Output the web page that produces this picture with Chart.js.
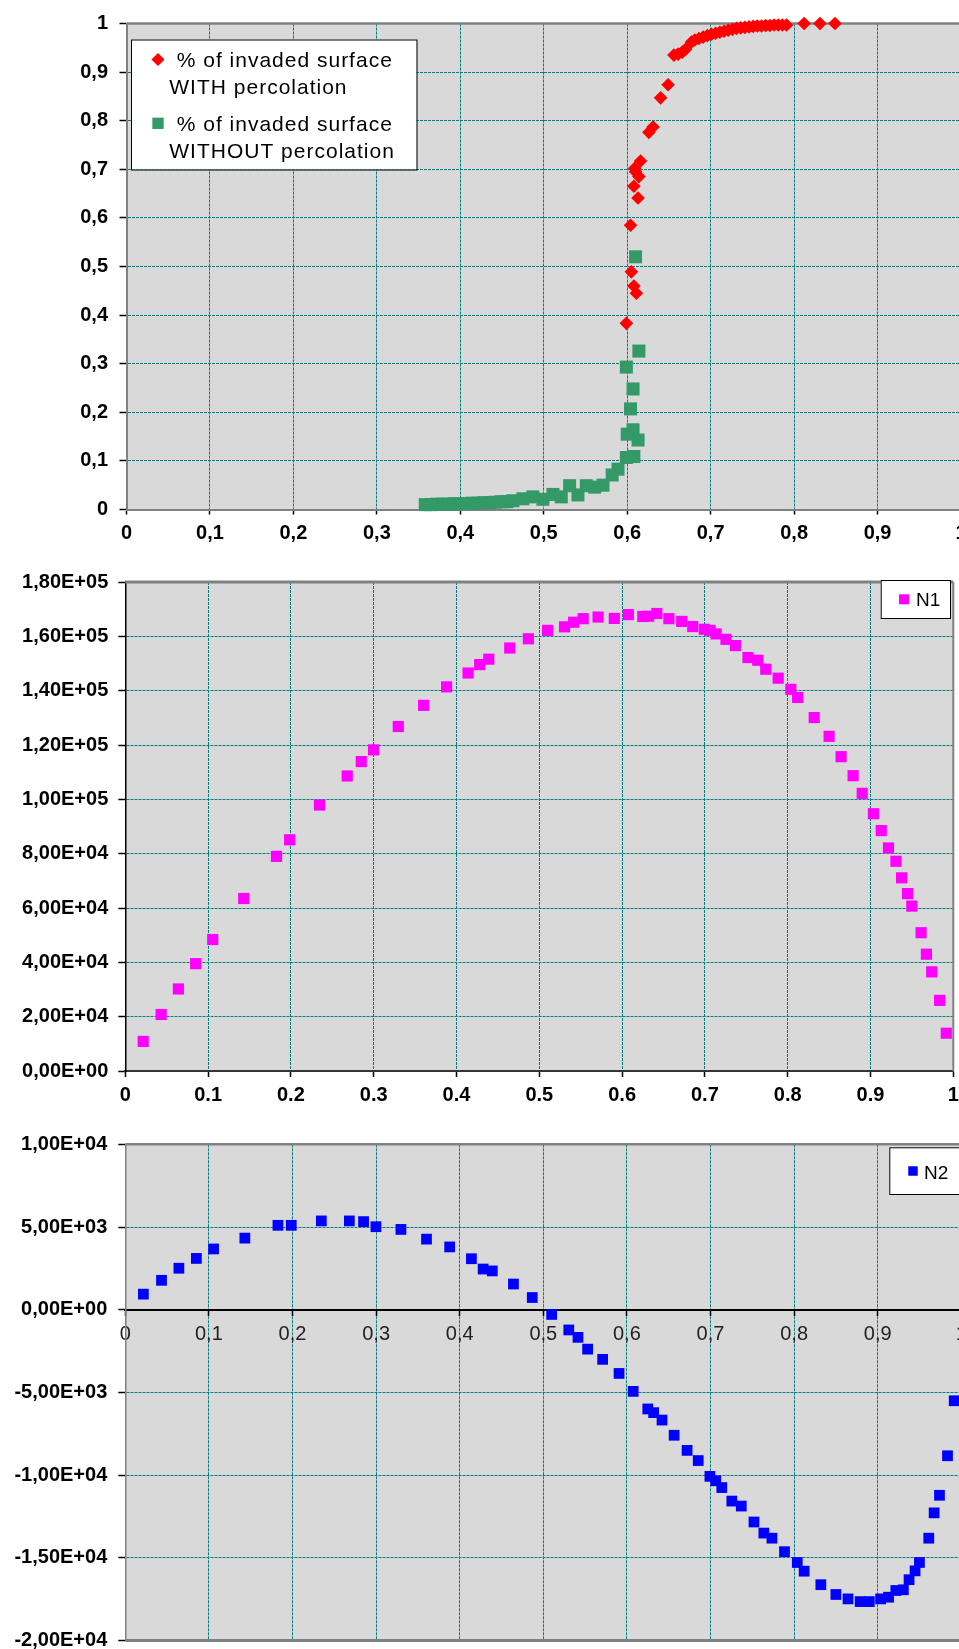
<!DOCTYPE html>
<html>
<head>
<meta charset="utf-8">
<title>Invaded surface, N1 and N2</title>
<script src="https://cdn.jsdelivr.net/npm/chart.js@4.4.1/dist/chart.umd.min.js"></script>
<style>
  html, body { margin: 0; padding: 0; background: #fff; }
  body { width: 959px; height: 1649px; overflow: hidden; position: relative; }
  canvas { position: absolute; left: 0; }
</style>
</head>
<body>
<canvas id="surface" width="975" height="560" style="top:0px"></canvas>
<canvas id="n1" width="975" height="545" style="top:560px"></canvas>
<canvas id="n2" width="975" height="560" style="top:1105px"></canvas>
<script>
// --- data ---
const withPercolationX = [0.599, 0.604, 0.605, 0.608, 0.611, 0.613, 0.608, 0.614, 0.610, 0.609, 0.616, 0.626, 0.631, 0.640, 0.649,
  0.656, 0.661, 0.666, 0.670, 0.677, 0.681, 0.686, 0.691, 0.696, 0.701, 0.706, 0.711, 0.716, 0.721, 0.726, 0.731, 0.736,
  0.741, 0.746, 0.751, 0.756, 0.761, 0.766, 0.771, 0.776, 0.781, 0.786, 0.791, 0.812, 0.831, 0.849];
const withPercolationY = [0.383, 0.585, 0.489, 0.460, 0.445, 0.641, 0.665, 0.685, 0.695, 0.702, 0.717, 0.776, 0.787, 0.847, 0.874,
  0.935, 0.937, 0.941, 0.947, 0.962, 0.966, 0.969, 0.972, 0.975, 0.978, 0.980, 0.982, 0.984, 0.986, 0.988, 0.990, 0.991,
  0.992, 0.993, 0.994, 0.995, 0.995, 0.996, 0.996, 0.997, 0.997, 0.997, 0.997, 1.000, 1.000, 1.000];

const withoutPercolationX = [0.358, 0.365, 0.372, 0.379, 0.386, 0.393, 0.400, 0.407, 0.414, 0.421, 0.428, 0.435, 0.442, 0.449,
  0.456, 0.463, 0.475, 0.487, 0.499, 0.511, 0.521, 0.531, 0.541, 0.551, 0.561, 0.571, 0.582, 0.589, 0.599, 0.608, 0.600,
  0.607, 0.613, 0.604, 0.607, 0.599, 0.614, 0.610];
const withoutPercolationY = [0.010, 0.010, 0.011, 0.011, 0.011, 0.012, 0.012, 0.012, 0.013, 0.013, 0.014, 0.014, 0.015, 0.016,
  0.016, 0.018, 0.022, 0.026, 0.021, 0.031, 0.026, 0.049, 0.030, 0.049, 0.046, 0.050, 0.071, 0.083, 0.107, 0.109, 0.155,
  0.164, 0.143, 0.207, 0.248, 0.293, 0.326, 0.520];

// x positions shared by N1 and N2
const fraction = [0.0216, 0.0433, 0.0641, 0.085, 0.1056, 0.143, 0.1826, 0.1985, 0.2345, 0.268, 0.285, 0.2998, 0.3297, 0.3603,
  0.388, 0.414, 0.428, 0.439, 0.4643, 0.4868, 0.510, 0.5305, 0.5415, 0.553, 0.571, 0.5906, 0.6075, 0.625, 0.632, 0.642,
  0.6565, 0.672, 0.6853, 0.6993, 0.7063, 0.7135, 0.7255, 0.7368, 0.752, 0.7638, 0.7735, 0.7885, 0.8038, 0.812, 0.832,
  0.850, 0.8645, 0.879, 0.890, 0.9035, 0.913, 0.9217, 0.9307, 0.9375, 0.9447, 0.9499, 0.9611, 0.9675, 0.9739, 0.9835, 0.9915];
const n1Values = [10900, 20800, 30200, 39500, 48400, 63500, 79000, 85100, 97900, 108600, 113900, 118200, 126800, 134600,
  141400, 146500, 149600, 151600, 155700, 159100, 162200, 163500, 165200, 166500, 167100, 166600, 168000, 167300, 167400,
  168400, 166500, 165500, 163600, 162600, 162200, 160900, 158900, 156600, 152200, 151200, 147900, 144600, 140500, 137500,
  130100, 123200, 115700, 108700, 102200, 94700, 88500, 82100, 77200, 71100, 65300, 60700, 50900, 43000, 36500, 26000, 13900];
const n2Values = [943, 1778, 2509, 3101, 3674, 4329, 5103, 5103, 5369, 5369, 5327, 5018, 4855, 4268, 3797, 3083, 2460, 2346,
  1554, 738, -284, -1221, -1669, -2382, -2999, -3851, -4934, -5998, -6221, -6669, -7588, -8501, -9118, -10073, -10339,
  -10750, -11566, -11868, -12830, -13501, -13809, -14625, -15278, -15804, -16620, -17213, -17479, -17642, -17642, -17479,
  -17376, -16971, -16929, -16318, -15786, -15278, -13809, -12279, -11215, -8827, -5502];

const fractionLabels = ['0', '0,1', '0,2', '0,3', '0,4', '0,5', '0,6', '0,7', '0,8', '0,9', '1'];
const n1Labels = ['0,00E+00', '2,00E+04', '4,00E+04', '6,00E+04', '8,00E+04', '1,00E+05', '1,20E+05', '1,40E+05', '1,60E+05', '1,80E+05'];
const n2Labels = ['-2,00E+04', '-1,50E+04', '-1,00E+04', '-5,00E+03', '0,00E+00', '5,00E+03', '1,00E+04'];

// --- look ---
Chart.defaults.font.family = '"Liberation Sans", Arial, sans-serif';
Chart.defaults.font.size = 20;
Chart.defaults.color = '#000';

const toPoints = (xs, ys) => xs.map((x, i) => ({ x, y: ys[i] }));
const GRID = { color: '#008080', lineWidth: 1, tickColor: '#000', tickWidth: 1.5 };
const DASH = [3, 1];
const BOLD = { size: 20, weight: 'bold' };

const plotFrame = {
  id: 'plotFrame',
  beforeDraw(chart, args, o) {
    const { ctx, chartArea: a } = chart;
    ctx.save();
    ctx.fillStyle = o.fill;
    ctx.fillRect(a.left, a.top, a.right - a.left, a.bottom - a.top);
    ctx.restore();
  },
  beforeDatasetsDraw(chart, args, o) {
    const { ctx, chartArea: a } = chart;
    const line = (w, x1, y1, x2, y2) => {
      if (!w) return;
      ctx.lineWidth = w;
      ctx.beginPath();
      ctx.moveTo(x1, y1);
      ctx.lineTo(x2, y2);
      ctx.stroke();
    };
    ctx.save();
    ctx.strokeStyle = o.color;
    line(o.top, a.left, a.top, a.right, a.top);
    line(o.right, a.right, a.top, a.right, a.bottom);
    line(o.bottom, a.left, a.bottom, a.right, a.bottom);
    ctx.restore();
  }
};

// legend box drawn inside the plot, like the spreadsheet one
const boxLegend = {
  id: 'boxLegend',
  afterDraw(chart, args, o) {
    const { ctx } = chart;
    const [bx, by, bw, bh] = o.box;
    ctx.save();
    ctx.fillStyle = '#fff';
    ctx.fillRect(bx, by, bw, bh);
    ctx.strokeStyle = '#000';
    ctx.lineWidth = 1;
    ctx.strokeRect(bx + 0.5, by + 0.5, bw, bh);
    ctx.font = o.font;
    ctx.letterSpacing = o.spacing;
    ctx.textBaseline = 'alphabetic';
    chart.data.datasets.forEach((ds, i) => {
      const it = o.items[i];
      ctx.fillStyle = ds.backgroundColor;
      Chart.helpers.drawPoint(ctx, { pointStyle: ds.pointStyle, radius: it.r, rotation: 0, borderWidth: 0 }, it.mx, it.my);
      ctx.fillStyle = '#000';
      [].concat(ds.label).forEach((t, j) => ctx.fillText(t, j ? it.tx2 : it.tx, it.ty + j * o.lineHeight));
    });
    ctx.restore();
  }
};

const xAxis = (tickLength, padding, border, extra, tickFont = BOLD, tickColor = '#000') => Object.assign({
  type: 'linear', min: 0, max: 1,
  ticks: { stepSize: 0.1, padding, maxRotation: 0, autoSkip: false, font: tickFont, color: tickColor,
    callback: (v, i) => fractionLabels[i] },
  grid: { ...GRID, tickLength },
  border: { ...border, dash: DASH }
}, extra);

const yAxis = (min, max, step, labels, padding, width, border) => ({
  type: 'linear', min, max,
  ticks: { stepSize: step, padding, autoSkip: false, font: BOLD, callback: (v, i) => labels[i] },
  grid: { ...GRID, tickLength: 7 },
  border: { ...border, dash: DASH },
  afterFit: s => { s.width = width; }
});

const base = {
  responsive: false,
  animation: false,
  devicePixelRatio: 1,
  events: [],
  elements: { point: { borderWidth: 0 } }
};

new Chart(document.getElementById('surface'), {
  type: 'scatter',
  data: {
    datasets: [
      { label: ['% of invaded surface', 'WITH percolation'], data: toPoints(withPercolationX, withPercolationY),
        backgroundColor: '#ff0000', pointStyle: 'rectRot', pointRadius: 6.8, clip: false },
      { label: ['% of invaded surface', 'WITHOUT percolation'], data: toPoints(withoutPercolationX, withoutPercolationY),
        backgroundColor: '#339966', pointStyle: 'rect', pointRadius: 9.2, clip: false }
    ]
  },
  options: {
    ...base,
    layout: { padding: { top: 16.5, left: 0, right: 14, bottom: 10.5 } },
    scales: {
      x: xAxis(5, 7, { color: '#808080', width: 2 }, { afterFit: s => { s.height = 40; } }),
      y: yAxis(0, 1, 0.1, fractionLabels, 11.5, 126.5, { color: '#808080', width: 2 })
    },
    plugins: {
      legend: { display: false },
      tooltip: { enabled: false },
      plotFrame: { fill: '#d9d9d9', color: '#808080', top: 2.5 },
      boxLegend: {
        box: [131, 39.5, 285.5, 130], font: '21px "Liberation Sans", Arial, sans-serif', spacing: '1px', lineHeight: 26.7,
        items: [
          { r: 6.5, mx: 158, my: 59.5, tx: 176.7, tx2: 169.3, ty: 67 },
          { r: 8, mx: 158, my: 123.3, tx: 176.7, tx2: 169.3, ty: 131 }
        ]
      }
    }
  },
  plugins: [plotFrame, boxLegend]
});

new Chart(document.getElementById('n1'), {
  type: 'scatter',
  data: {
    datasets: [
      { label: 'N1', data: toPoints(fraction, n1Values), backgroundColor: '#ff00ff', pointStyle: 'rect', pointRadius: 7.9, clip: false }
    ]
  },
  options: {
    ...base,
    layout: { padding: { top: 15.5, left: 0, right: 21.7, bottom: 4 } },
    scales: {
      x: xAxis(6, 6, { color: '#333', width: 2 }, { afterFit: s => { s.height = 30; } }),
      y: yAxis(0, 180000, 20000, n1Labels, 10, 125.3, { color: '#000', width: 1.5 })
    },
    plugins: {
      legend: { display: false },
      tooltip: { enabled: false },
      plotFrame: { fill: '#d9d9d9', color: '#808080', top: 3, right: 2 },
      boxLegend: {
        box: [880.7, 20, 69.3, 38], font: '19px "Liberation Sans", Arial, sans-serif', spacing: '0px', lineHeight: 0,
        items: [{ r: 7.1, mx: 904, my: 39.3, tx: 916, tx2: 916, ty: 46 }]
      }
    }
  },
  plugins: [plotFrame, boxLegend]
});

new Chart(document.getElementById('n2'), {
  type: 'scatter',
  data: {
    datasets: [
      { label: 'N2', data: toPoints(fraction, n2Values), backgroundColor: '#0000ff', pointStyle: 'rect', pointRadius: 7.6, clip: false }
    ]
  },
  options: {
    ...base,
    layout: { padding: { top: 39.3, left: 0, right: 13.7, bottom: 24.4 } },
    scales: {
      x: xAxis(5, 8, { color: '#000', width: 2 }, { position: { y: 0 } }, { size: 20 }, '#222'),
      y: yAxis(-20000, 10000, 5000, n2Labels, 11, 125.3, { color: '#808080', width: 1.5 })
    },
    plugins: {
      legend: { display: false },
      tooltip: { enabled: false },
      plotFrame: { fill: '#d9d9d9', color: '#808080', top: 2.5, bottom: 3 },
      boxLegend: {
        box: [889.3, 42.3, 100, 46.7], font: '19px "Liberation Sans", Arial, sans-serif', spacing: '0px', lineHeight: 0,
        items: [{ r: 6.7, mx: 913, my: 66, tx: 924, tx2: 924, ty: 74.3 }]
      }
    }
  },
  plugins: [plotFrame, boxLegend]
});
</script>
</body>
</html>
